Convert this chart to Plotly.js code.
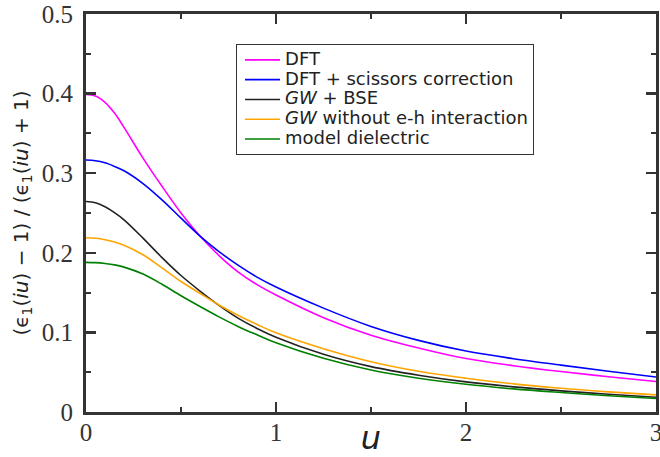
<!DOCTYPE html>
<html>
<head>
<meta charset="utf-8">
<script src="https://cdn.plot.ly/plotly-3.0.1.min.js"></script>
<style>html,body{margin:0;padding:0;background:#fff;}#chart{width:660px;height:457px;}</style>
</head>
<body>
<div id="chart"></div>
<script>
const u        = [0, 0.05, 0.1, 0.15, 0.2, 0.3, 0.4, 0.5, 0.6, 0.7, 0.8, 0.9, 1.0, 1.25, 1.5, 1.75, 2.0, 2.25, 2.5, 2.75, 3.0];
const dft      = [0.399, 0.397, 0.389, 0.3755, 0.3575, 0.319, 0.2835, 0.250, 0.221, 0.1965, 0.176, 0.160, 0.147, 0.1185, 0.0965, 0.0805, 0.0672, 0.0582, 0.0508, 0.0443, 0.0383];
const scissors = [0.3165, 0.3157, 0.313, 0.3085, 0.303, 0.287, 0.2665, 0.2435, 0.221, 0.2015, 0.1845, 0.1695, 0.157, 0.1305, 0.1075, 0.0900, 0.0766, 0.0670, 0.0589, 0.0511, 0.0439];
const gwbse    = [0.2645, 0.2628, 0.2578, 0.2505, 0.2415, 0.2185, 0.194, 0.1715, 0.152, 0.134, 0.118, 0.105, 0.094, 0.0725, 0.057, 0.0462, 0.0378, 0.0316, 0.0266, 0.0223, 0.0186];
const gwnoeh   = [0.219, 0.2183, 0.2165, 0.2135, 0.2095, 0.1975, 0.181, 0.164, 0.149, 0.1345, 0.1215, 0.110, 0.0995, 0.0795, 0.0632, 0.0512, 0.0425, 0.0353, 0.0298, 0.0253, 0.0215];
const model    = [0.188, 0.1876, 0.1865, 0.1848, 0.182, 0.1733, 0.1605, 0.146, 0.1325, 0.1195, 0.1075, 0.097, 0.087, 0.0675, 0.0528, 0.0425, 0.0348, 0.029, 0.0245, 0.0205, 0.0170];
const names = ["DFT", "DFT + scissors correction", "<i>GW</i> + BSE", "<i>GW</i> without e-h interaction", "model dielectric"];
const colors = ["#ff00ff", "#0000ff", "#222222", "#ffa500", "#008000"];
const series = [dft, scissors, gwbse, gwnoeh, model];

const traces = series.map((s, i) => ({
  x: u, y: s, type: "scatter", mode: "lines",
  name: '<span style="font-size:18px">' + names[i] + '</span>',
  line: {color: colors[i], width: 1.6, shape: "spline", smoothing: 1}
}));

const axisCommon = {
  showline: true, linecolor: "#333", linewidth: 3, mirror: "ticks",
  ticks: "inside", ticklen: 10, tickwidth: 2.5, tickcolor: "#333",
  showgrid: false, zeroline: false, ticklabeloverflow: "allow",
  tickfont: {family: "Liberation Serif", size: 25, color: "#333"}
};

const layout = {
  width: 660, height: 457,
  margin: {l: 86, r: 4, t: 14, b: 45},
  paper_bgcolor: "#fff", plot_bgcolor: "#fff",
  showlegend: true,
  legend: {
    x: 0.2632, y: 0.9246, xanchor: "left", yanchor: "top",
    bordercolor: "#333", borderwidth: 1, bgcolor: "#fff",
    font: {family: "DejaVu Sans", size: 12.9, color: "#222"},
    tracegroupgap: 0, indentation: 3, itemwidth: 35
  },
  xaxis: Object.assign({}, axisCommon, {
    range: [0, 3], dtick: 1, tick0: 0, ticklabelstandoff: -4,
    minor: {ticks: "inside", ticklen: 5, tickwidth: 2, tickcolor: "#333", dtick: 0.5, showgrid: false},
    title: {text: "<i>u</i>", font: {family: "DejaVu Sans", size: 32, color: "#222"}, standoff: 0}
  }),
  yaxis: Object.assign({}, axisCommon, {
    range: [0, 0.5], dtick: 0.1, tick0: 0, ticklabelstandoff: 5,
    minor: {ticks: "inside", ticklen: 5, tickwidth: 2, tickcolor: "#333", dtick: 0.05, showgrid: false},
    title: {text: "(ϵ<sub>1</sub>(<i>iu</i>) − 1) / (ϵ<sub>1</sub>(<i>iu</i>) + 1)", font: {family: "DejaVu Sans", size: 20, color: "#222"}, standoff: 8}
  })
};

Plotly.newPlot("chart", traces, layout, {staticPlot: true, displayModeBar: false});
</script>
</body>
</html>
